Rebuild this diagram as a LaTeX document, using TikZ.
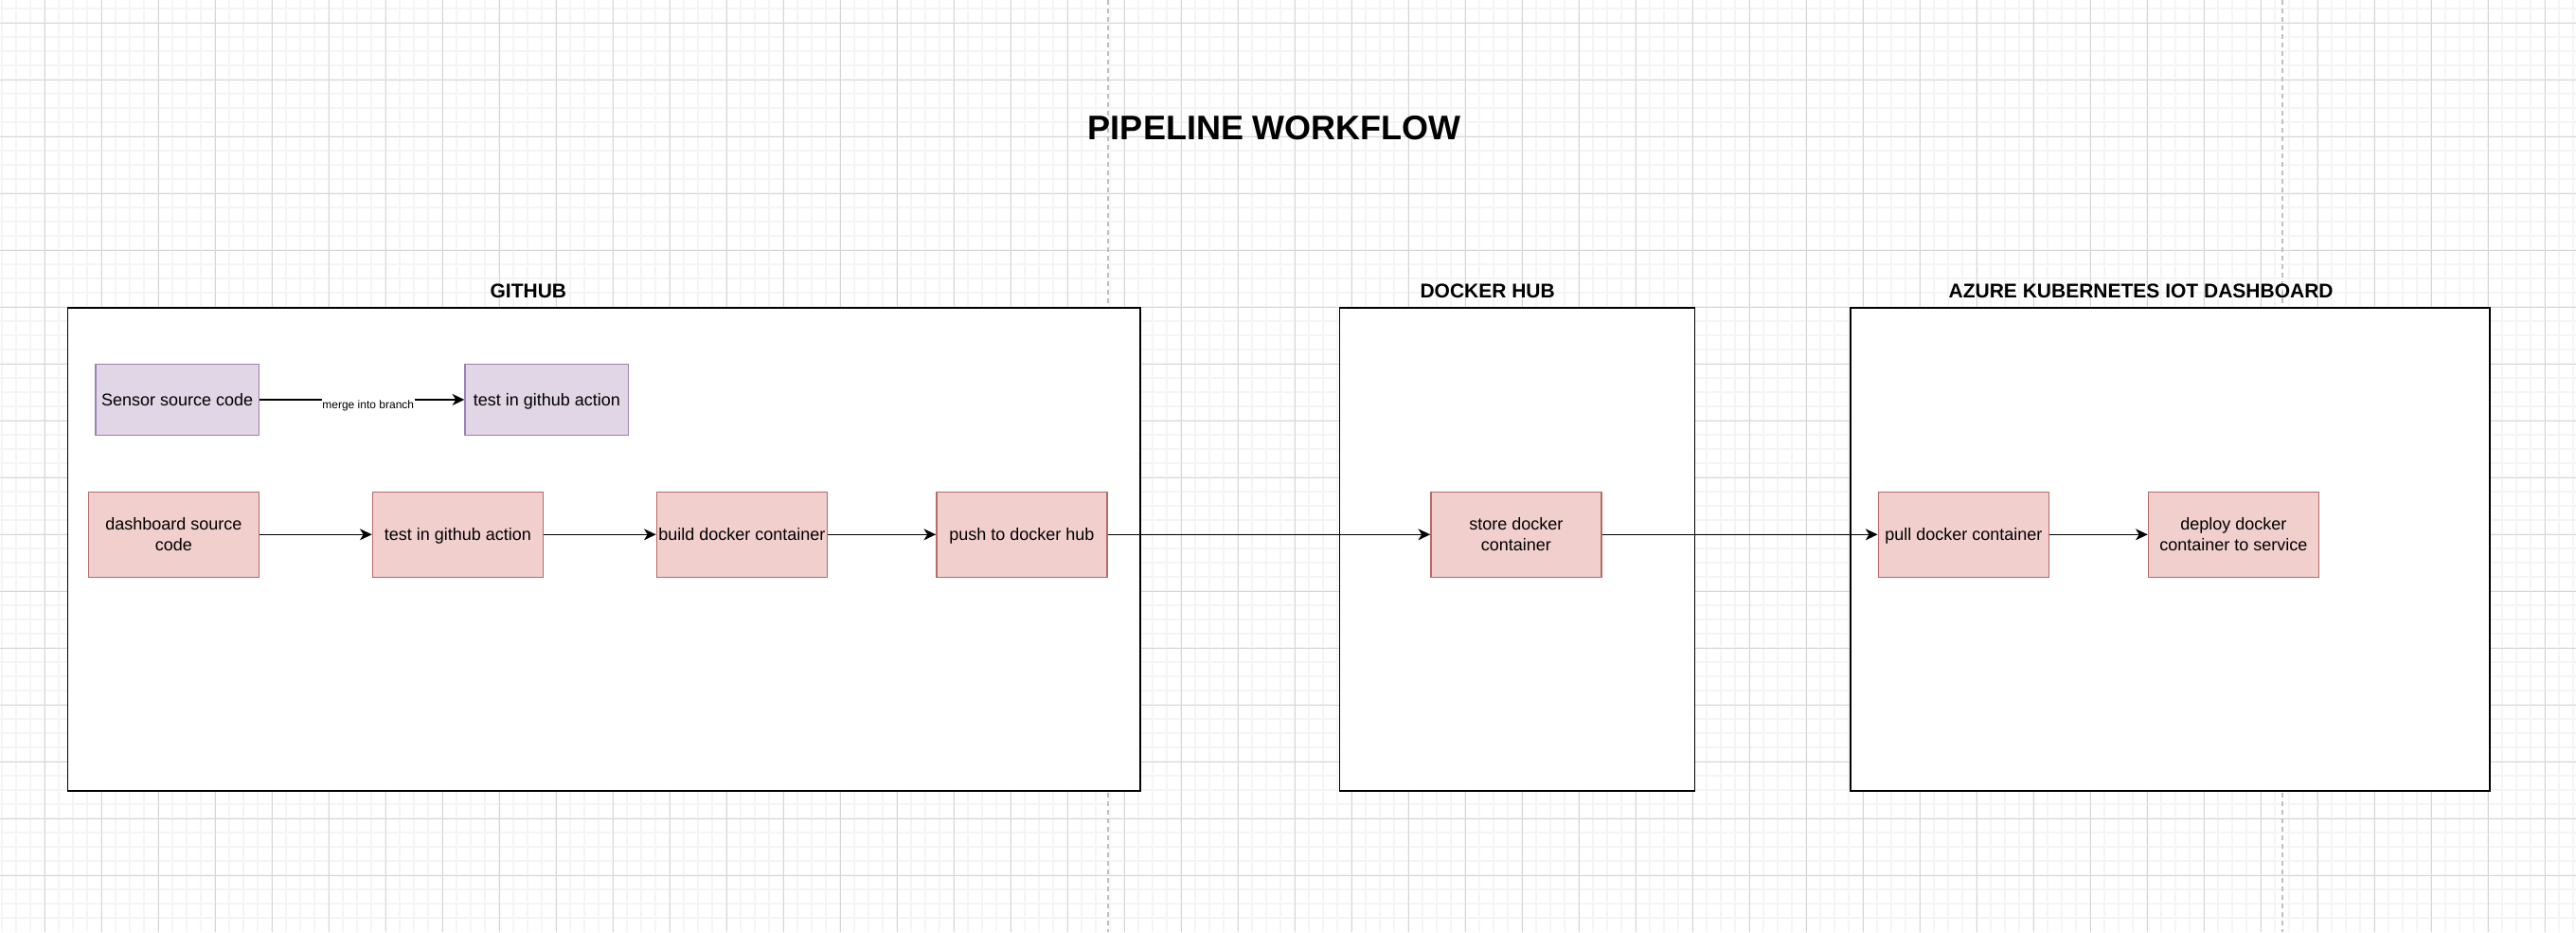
\documentclass[tikz,border=0pt]{standalone}
\usepackage{fontspec}
\setmainfont{Liberation Sans}
\usetikzlibrary{arrows.meta}
\definecolor{gridminor}{RGB}{245,245,245}
\definecolor{gridmajor}{RGB}{214,214,214}
\definecolor{pagebreak}{RGB}{192,192,192}
\definecolor{purplefill}{RGB}{224,214,230}
\definecolor{purpleline}{RGB}{158,128,178}
\definecolor{redfill}{RGB}{241,207,205}
\definecolor{redline}{RGB}{184,106,102}
\begin{document}
\begin{tikzpicture}[x=1pt,y=-1pt,
  container/.style={draw=black, line width=1pt, fill=white, inner sep=0pt, anchor=north west},
  boxbase/.style={line width=1pt, inner sep=0pt, font=\fontsize{12}{14.4}\selectfont},
  redbox/.style={boxbase, draw=redline, fill=redfill, minimum width=120pt, minimum height=60pt},
  purplebox/.style={boxbase, draw=purpleline, fill=purplefill, minimum width=115pt, minimum height=50pt},
  oneline/.style={text depth=0pt},
  twolines/.style={align=center},
  flow/.style={draw=black, line width=1pt, -{Stealth[length=8.5pt,width=8pt,inset=2.5pt]}},
  grouplabel/.style={anchor=base, font=\bfseries\fontsize{14}{16.8}\selectfont, inner sep=0pt},
  edgelabel/.style={fill=white, inner xsep=0.3pt, inner ysep=1pt, font=\fontsize{8}{9.6}\selectfont},
  minorline/.style={draw=gridminor, line width=1.2pt},
  majorline/.style={draw=gridmajor, line width=0.7pt},
  breakline/.style={draw=pagebreak, line width=1pt, dash pattern=on 3pt off 3pt},
]
\useasboundingbox (0,0) rectangle (1813.33,656);
\fill[white] (0,0) rectangle (1813.33,656);
% grid
\foreach \i in {0,...,181} \draw[minorline] ({1.53+10*\i},0) -- ({1.53+10*\i},656);
\foreach \j in {0,...,64} \draw[minorline] (0,{6.2+10*\j}) -- (1813.33,{6.2+10*\j});
\foreach \i in {0,...,44} \draw[majorline] ({31.53+40*\i},0) -- ({31.53+40*\i},656);
\foreach \j in {0,...,15} \draw[majorline] (0,{16.2+40*\j}) -- (1813.33,{16.2+40*\j});
% page breaks
\coordinate (pbatop) at (779.9,0);
\coordinate (pbabot) at (779.9,656);
\coordinate (pbbtop) at (1606.7,0);
\coordinate (pbbbot) at (1606.7,656);
\draw[breakline] (pbatop) -- (pbabot);
\draw[breakline] (pbbtop) -- (pbbbot);
% title
\node[anchor=base, inner sep=0pt, font=\bfseries\fontsize{24}{28.8}\selectfont] (title) at (897.3,98.1) {PIPELINE WORKFLOW};
% containers
\node[container, minimum width=755pt, minimum height=340pt] (github) at (47,216.2) {};
\node[container, minimum width=250pt, minimum height=340pt] (dockerhub) at (942.5,216.2) {};
\node[container, minimum width=450pt, minimum height=340pt] (azure) at (1302.3,216.2) {};
\node[grouplabel] (githublabel) at (371.9,209.8) {GITHUB};
\node[grouplabel] (dockerlabel) at (1047.1,209.8) {DOCKER HUB};
\node[grouplabel] (azurelabel) at (1507.1,209.8) {AZURE KUBERNETES IOT DASHBOARD};
% purple row
\node[purplebox, oneline] (sensor) at (124.8,281.3) {Sensor source code};
\node[purplebox, oneline] (ptest) at (384.9,281.3) {test in github action};
% red row
\node[redbox, twolines] (dash) at (122.2,376.2) {dashboard source\\code};
\node[redbox, oneline] (rtest) at (322.3,376.2) {test in github action};
\node[redbox, oneline] (build) at (522.3,376.2) {build docker container};
\node[redbox, oneline] (push) at (719.3,376.2) {push to docker hub};
\node[redbox, twolines] (store) at (1067.3,376.2) {store docker\\container};
\node[redbox, oneline] (pull) at (1382.2,376.2) {pull docker container};
\node[redbox, twolines] (deploy) at (1572.3,376.2) {deploy docker\\container to service};
% connectors
\draw[flow] (sensor) -- node[edgelabel, pos=0.53, yshift=-4pt] (mergelabel) {merge into branch} (ptest);
\draw[flow] (dash) -- (rtest);
\draw[flow] (rtest) -- (build);
\draw[flow] (build) -- (push);
\draw[flow] (push) -- (store);
\draw[flow] (store) -- (pull);
\draw[flow] (pull) -- (deploy);
\end{tikzpicture}
\end{document}
